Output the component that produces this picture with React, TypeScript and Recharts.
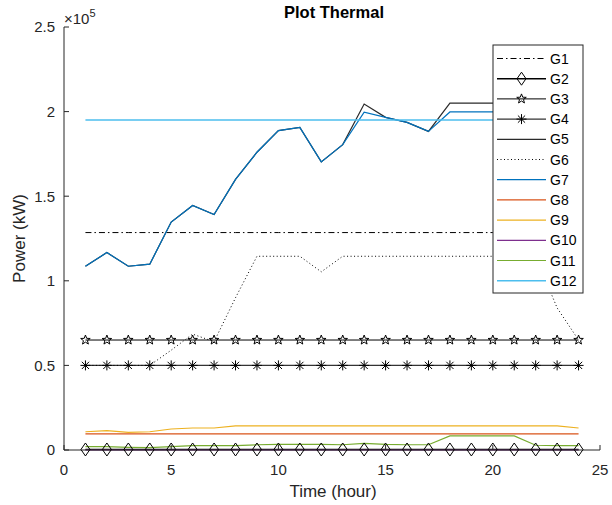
import React from 'react';
import { LineChart, Line, XAxis, YAxis } from 'recharts';

// hours on the x axis
const HOURS = [1, 2, 3, 4, 5, 6, 7, 8, 9, 10, 11, 12, 13, 14, 15, 16, 17, 18, 19, 20, 21, 22, 23, 24];

// generator outputs in kW
const G1 = [128500, 128500, 128500, 128500, 128500, 128500, 128500, 128500, 128500, 128500, 128500, 128500, 128500, 128500, 128500, 128500, 128500, 128500, 128500, 128500, 128500, 128500, 128500, 128500];
const G2 = [300, 300, 300, 300, 300, 300, 300, 300, 300, 300, 300, 300, 300, 300, 300, 300, 300, 300, 300, 300, 300, 300, 300, 300];
const G3 = [65000, 65000, 65000, 65000, 65000, 65000, 65000, 65000, 65000, 65000, 65000, 65000, 65000, 65000, 65000, 65000, 65000, 65000, 65000, 65000, 65000, 65000, 65000, 65000];
const G4 = [50000, 50000, 50000, 50000, 50000, 50000, 50000, 50000, 50000, 50000, 50000, 50000, 50000, 50000, 50000, 50000, 50000, 50000, 50000, 50000, 50000, 50000, 50000, 50000];
const G5 = [108600, 116700, 108600, 109800, 134700, 144500, 139200, 159900, 176000, 188800, 190700, 170300, 180500, 204500, 196600, 193600, 188300, 205000, 205000, 205000, 205000, 205000, 205000, 205000];
const G6 = [50000, 50000, 50000, 50000, 59000, 68500, 64000, 90000, 114500, 114500, 114500, 105300, 114500, 114500, 114500, 114500, 114500, 114500, 114500, 114500, 114500, 114500, 84000, 65000];
const G7 = [108600, 116700, 108600, 109800, 134700, 144500, 139200, 159900, 176000, 188800, 190700, 170300, 180500, 199700, 196600, 193600, 188300, 199800, 199800, 199800, 199800, 199800, 199800, 199800];
const G8 = [9500, 9500, 9500, 9500, 9500, 9500, 9500, 9500, 9500, 9500, 9500, 9500, 9500, 9500, 9500, 9500, 9500, 9500, 9500, 9500, 9500, 9500, 9500, 9500];
const G9 = [10800, 11400, 10400, 10800, 12400, 13000, 13000, 14200, 14200, 14200, 14200, 14200, 14200, 14200, 14200, 14200, 14200, 14200, 14200, 14200, 14200, 14200, 14200, 13000];
const G10 = [0, 0, 0, 0, 0, 0, 0, 0, 0, 0, 0, 0, 0, 0, 0, 0, 0, 0, 0, 0, 0, 0, 0, 0];
const G11 = [2000, 2000, 1600, 1400, 2000, 2600, 2600, 2600, 3100, 3300, 3300, 3300, 3100, 3900, 3300, 3100, 3100, 8300, 8300, 8300, 8300, 2800, 2600, 2600];
const G12 = [195000, 195000, 195000, 195000, 195000, 195000, 195000, 195000, 195000, 195000, 195000, 195000, 195000, 195000, 195000, 195000, 195000, 195000, 195000, 195000, 195000, 195000, 195000, 195000];

const X_TICKS = [0, 5, 10, 15, 20, 25];
const Y_TICKS = [0, 50000, 100000, 150000, 200000, 250000];

const FONT = '"Liberation Sans", Arial, Helvetica, sans-serif';
const AXIS = '#262626';

type Marker = 'none' | 'diamond' | 'star' | 'asterisk';
interface Series { key: string; values: number[]; color: string; dash?: string; marker: Marker; width?: number }

const SERIES: Series[] = [
  { key: 'G1', values: G1, color: '#000', dash: '6 3 1.5 3', marker: 'none' },
  { key: 'G2', values: G2, color: '#000', marker: 'diamond', width: 1.4 },
  { key: 'G3', values: G3, color: '#000', marker: 'star' },
  { key: 'G4', values: G4, color: '#333', marker: 'asterisk', width: 1.4 },
  { key: 'G5', values: G5, color: '#2a2a2a', marker: 'none', width: 1.2 },
  { key: 'G6', values: G6, color: '#000', dash: '1 2.5', marker: 'none' },
  { key: 'G7', values: G7, color: '#0072BD', marker: 'none', width: 1.2 },
  { key: 'G8', values: G8, color: '#D95319', marker: 'none', width: 1.2 },
  { key: 'G9', values: G9, color: '#EDB120', marker: 'none', width: 1.2 },
  { key: 'G10', values: G10, color: '#7E2F8E', marker: 'none', width: 1.2 },
  { key: 'G11', values: G11, color: '#77AC30', marker: 'none', width: 1.2 },
  { key: 'G12', values: G12, color: '#4DBEEE', marker: 'none', width: 1.4 },
];

const data = HOURS.map((hour, i) => {
  const row: { [k: string]: number } = { hour };
  SERIES.forEach((s) => { row[s.key] = s.values[i]; });
  return row;
});

const MarkerShape = ({ type, cx, cy }: { type: Marker; cx: number; cy: number }) => {
  if (type === 'diamond') {
    return <path d={`M${cx},${cy - 6.5}L${cx + 4.5},${cy}L${cx},${cy + 6.5}L${cx - 4.5},${cy}Z`} fill="none" stroke="#000" strokeWidth={1} />;
  }
  if (type === 'star') {
    const pts: string[] = [];
    for (let k = 0; k < 10; k++) {
      const r = k % 2 === 0 ? 5 : 2.1;
      const a = -Math.PI / 2 + (k * Math.PI) / 5;
      pts.push(`${cx + r * Math.cos(a)},${cy + r * Math.sin(a)}`);
    }
    return <polygon points={pts.join(' ')} fill="none" stroke="#000" strokeWidth={1} />;
  }
  if (type === 'asterisk') {
    return (
      <g stroke="#000" strokeWidth={1}>
        <line x1={cx} y1={cy - 5} x2={cx} y2={cy + 5} />
        <line x1={cx - 5} y1={cy} x2={cx + 5} y2={cy} />
        <line x1={cx - 3.6} y1={cy - 3.6} x2={cx + 3.6} y2={cy + 3.6} />
        <line x1={cx - 3.6} y1={cy + 3.6} x2={cx + 3.6} y2={cy - 3.6} />
      </g>
    );
  }
  return null;
};

const fmtY = (v: number) => String(v / 100000);

const Legend = () => (
  <svg width={93} height={250} style={{ position: 'absolute', left: 492, top: 44 }}>
    <rect x={1} y={1} width={90} height={248} fill="#fff" stroke={AXIS} strokeWidth={1} />
    {SERIES.map((s, i) => {
      const y = 14.5 + i * 20.2;
      return (
        <g key={s.key}>
          <line x1={5} x2={54} y1={y} y2={y} stroke={s.color} strokeWidth={s.width || 1} strokeDasharray={s.dash} />
          <MarkerShape type={s.marker} cx={29.5} cy={y} />
          <text x={58} y={y + 5} fontSize={14} fontFamily={FONT} fill="#000">{s.key}</text>
        </g>
      );
    })}
  </svg>
);

export default function App() {
  return (
    <div style={{ position: 'absolute', left: 0, top: 0, width: 612, height: 505, background: '#fff', fontFamily: FONT }}>
      <LineChart width={612} height={505} data={data} margin={{ top: 27, right: 12, bottom: 25, left: 4 }}>
        <XAxis dataKey="hour" type="number" domain={[0, 25]} ticks={X_TICKS} height={30}
          tickSize={-5} tickMargin={19} stroke={AXIS} tick={{ fill: AXIS, fontSize: 15, fontFamily: FONT }} />
        <XAxis xAxisId="top" orientation="top" dataKey="hour" type="number" domain={[0, 25]} ticks={X_TICKS}
          height={0} tickSize={-5} stroke={AXIS} tick={false} />
        <YAxis type="number" domain={[0, 250000]} ticks={Y_TICKS} width={60} tickFormatter={fmtY}
          tickSize={-5} tickMargin={14} stroke={AXIS} tick={{ fill: AXIS, fontSize: 15, fontFamily: FONT }} />
        <YAxis yAxisId="right" orientation="right" type="number" domain={[0, 250000]} ticks={Y_TICKS}
          width={0} tickSize={-5} stroke={AXIS} tick={false} />
        {SERIES.map((s) => (
          <Line key={s.key} dataKey={s.key} type="linear" stroke={s.color} strokeWidth={s.width || 1}
            strokeDasharray={s.dash} isAnimationActive={false} activeDot={false}
            dot={s.marker === 'none' ? false : (p: any) => <MarkerShape key={`${s.key}-${p.index}`} type={s.marker} cx={p.cx} cy={p.cy} />} />
        ))}
      </LineChart>
      <svg width={612} height={505} style={{ position: 'absolute', left: 0, top: 0, pointerEvents: 'none' }}>
        <text x={334} y={18} textAnchor="middle" fontSize={16.5} fontWeight="bold" fontFamily={FONT} fill="#000">Plot Thermal</text>
        <text x={64} y={24} fontSize={15} fontFamily={FONT} fill={AXIS}>
          ×10<tspan dy={-7} fontSize={11}>5</tspan>
        </text>
        <text x={333} y={497} textAnchor="middle" fontSize={17} fontFamily={FONT} fill={AXIS}>Time (hour)</text>
        <text transform="translate(25,238.5) rotate(-90)" textAnchor="middle" fontSize={17} fontFamily={FONT} fill={AXIS}>Power (kW)</text>
      </svg>
      <Legend />
    </div>
  );
}
